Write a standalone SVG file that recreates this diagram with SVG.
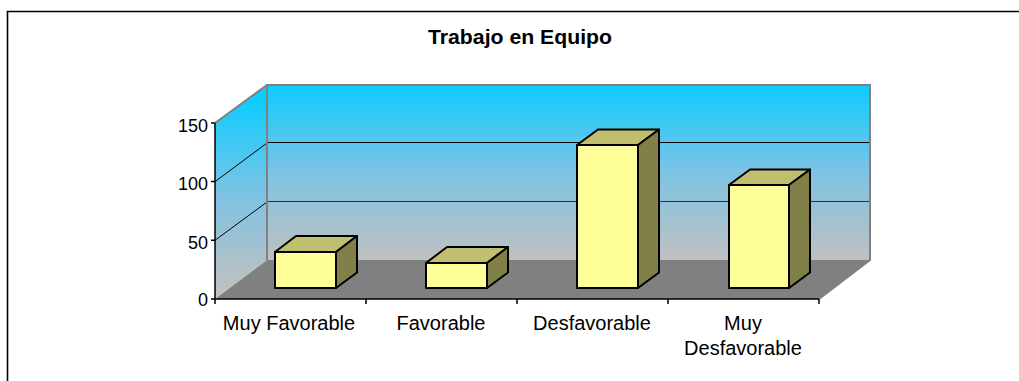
<svg xmlns="http://www.w3.org/2000/svg" width="1019" height="381" viewBox="0 0 1019 381">
<defs>
<linearGradient id="wall" x1="0" y1="0" x2="0" y2="1">
<stop offset="0" stop-color="#0DCCFF"/>
<stop offset="0.5" stop-color="#7EC3E4"/>
<stop offset="1" stop-color="#C0C0C0"/>
</linearGradient>
<linearGradient id="lwall" gradientUnits="userSpaceOnUse" x1="0" y1="100" x2="0" y2="290">
<stop offset="0" stop-color="#0DCCFF"/>
<stop offset="0.5" stop-color="#7EC3E4"/>
<stop offset="1" stop-color="#C0C0C0"/>
</linearGradient>
</defs>
<style>
.t{font-family:"Liberation Sans",Arial,sans-serif;fill:#000}
.lab{font-size:20px;text-anchor:middle}
.ax{font-size:18px;text-anchor:end}
.front{fill:#FFFF99;stroke:#000;stroke-width:2;stroke-linejoin:round}
.top{fill:#BFBF6F;stroke:#000;stroke-width:2;stroke-linejoin:round}
.side{fill:#808048;stroke:#000;stroke-width:2;stroke-linejoin:round}
.grid{stroke-width:1;fill:none}
.edge{stroke:#808080;stroke-width:2;fill:none}
.axis{stroke:#000;stroke-width:1.5;fill:none}
</style>
<rect width="1019" height="381" fill="#fff"/>
<path d="M7.5,381 V11.5 H1019" stroke="#000" stroke-width="1.6" fill="none"/>
<text class="t" x="520" y="44" font-size="20" font-weight="bold" text-anchor="middle" textLength="184" lengthAdjust="spacingAndGlyphs">Trabajo en Equipo</text>
<g id="walls">
<polygon points="215,123 267,85 267,260 215,299" fill="url(#lwall)"/>
<rect x="267" y="85" width="603" height="175" fill="url(#wall)"/>
<polygon points="215,299 819,299 870,260 267,260" fill="#808080"/>
<line class="grid" x1="267" y1="142.5" x2="870" y2="142.5" stroke="#000"/>
<line class="grid" x1="267" y1="201.5" x2="870" y2="201.5" stroke="#303030"/>
<line class="grid" x1="215" y1="181.6" x2="267" y2="143" stroke="#000"/>
<line class="grid" x1="215" y1="240.3" x2="267" y2="202" stroke="#000"/>
<path class="edge" d="M215,123 L267,85 H870 V260 L819,299"/>
<line class="edge" x1="267" y1="85" x2="267" y2="260"/>
</g>
<g id="axes">
<path class="axis" d="M215,123 V299 H819"/>
<path class="axis" d="M211,123 H215 M211,181.6 H215 M211,240.3 H215 M211,299 H215"/>
<path class="axis" d="M215,299 V304 M366,299 V304 M517,299 V304 M668,299 V304 M819,299 V304"/>
<text class="t ax" x="208" y="131.5">150</text>
<text class="t ax" x="208" y="190">100</text>
<text class="t ax" x="208" y="248.5">50</text>
<text class="t ax" x="208" y="305.5">0</text>
<text class="t lab" x="289" y="329.5">Muy Favorable</text>
<text class="t lab" x="441" y="329.5">Favorable</text>
<text class="t lab" x="592" y="329.5">Desfavorable</text>
<text class="t lab" x="743" y="330">Muy</text>
<text class="t lab" x="743" y="355">Desfavorable</text>
</g>
<g id="bar-muy-favorable">
<polygon class="top" points="275,252 296,236 357,236 336,252"/>
<polygon class="side" points="336,252 357,236 357,272.5 336,288"/>
<rect class="front" x="275" y="252" width="61" height="36"/>
</g>
<g id="bar-favorable">
<polygon class="top" points="426,263 447,247 508,247 487,263"/>
<polygon class="side" points="487,263 508,247 508,272.5 487,288"/>
<rect class="front" x="426" y="263" width="61" height="25"/>
</g>
<g id="bar-desfavorable">
<polygon class="top" points="577,145 598,129.5 659,129.5 638,145"/>
<polygon class="side" points="638,145 659,129.5 659,272.5 638,288"/>
<rect class="front" x="577" y="145" width="61" height="143"/>
</g>
<g id="bar-muy-desfavorable">
<polygon class="top" points="729,185 750,169.5 810,169.5 789,185"/>
<polygon class="side" points="789,185 810,169.5 810,272.5 789,288"/>
<rect class="front" x="729" y="185" width="60" height="103"/>
</g>
</svg>
